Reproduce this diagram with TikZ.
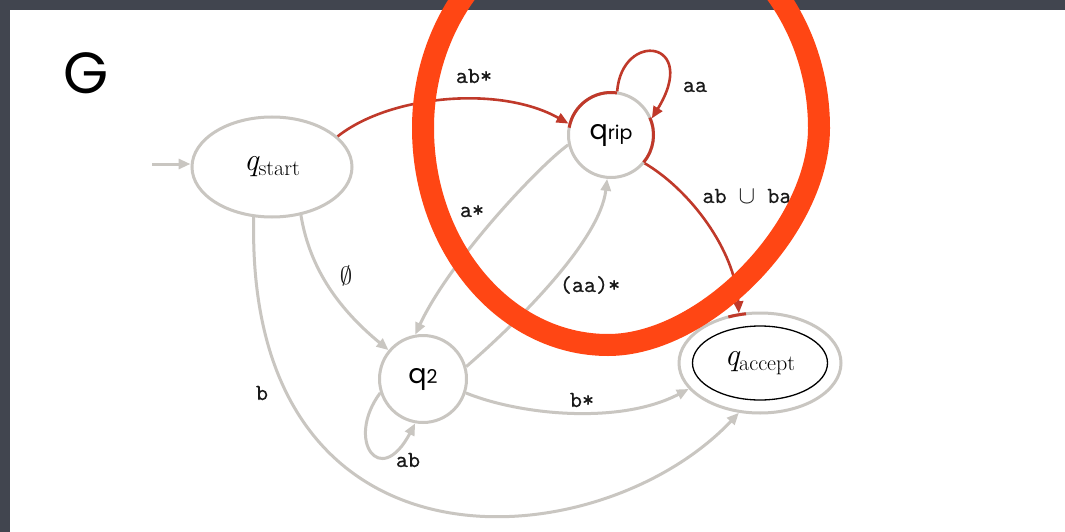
\documentclass[tikz,border=0pt]{standalone}
\usepackage{fontspec}
\newfontfamily\geo{Poppins}
\newfontfamily\labfont{lmmono10-regular.otf}[FakeBold=0.5]
\usetikzlibrary{arrows.meta,shapes.geometric}
\definecolor{slate}{HTML}{41454F}
\definecolor{edgegrey}{HTML}{C9C6C1}
\definecolor{edgered}{HTML}{C0392A}
\definecolor{marker}{HTML}{FF4614}
% state name: italic q with an upright, lowered subscript
\newcommand{\qsub}[1]{{\fontsize{32}{34}\selectfont\itshape q}{\fontsize{22}{24}\selectfont\raisebox{-5pt}{#1}}}
% state name in the geometric sans face
\newcommand{\qgeo}[1]{{\geo\fontsize{27}{30}\selectfont q\fontsize{19}{22}\selectfont #1}}

\begin{document}
\begin{tikzpicture}[x=1pt,y=-1pt,
  every node/.style={inner sep=0pt, outer sep=0pt},
  state/.style={draw=edgegrey, line width=3pt, fill=white, outer sep=1.5pt},
  gedge/.style={draw=edgegrey, line width=3pt, -{Triangle[length=12pt,width=10pt]}},
  redge/.style={draw=edgered, line width=2.6pt, -{Triangle[length=12pt,width=10pt]}},
  redarc/.style={draw=edgered, line width=3pt},
  lab/.style={font=\fontsize{23}{26}\selectfont\labfont, text=black!90, anchor=base}
]
\useasboundingbox (0,0) rectangle (1065,532);
\clip (0,0) rectangle (1065,532);

% slide frame
\fill[slate] (0,0) rectangle (1065,532);
\fill[white] (10,10) rectangle (1065,532);

% title
\node[font=\geo\fontsize{58}{60}\selectfont] (title) at (86,73.5) {G};

% states
\node[state, ellipse, minimum width=160pt, minimum height=100pt] (qstart) at (272,167) {\qsub{start}};
\node[state, circle, minimum size=85pt] (qrip) at (611,135) {\qgeo{rip}};
\node[state, circle, minimum size=87pt] (qtwo) at (423,379) {\qgeo{2}};
\node[state, ellipse, minimum width=162pt, minimum height=100pt] (qaccept) at (760,363) {};
\node[draw=black, line width=1.3pt, ellipse, minimum width=135pt, minimum height=74pt] (qacceptin) at (760,363) {\qsub{accept}};

% highlighted parts of state borders
\draw[redarc] ([shift={(82:42.5pt)}]qrip.center) arc[start angle=82, end angle=170, radius=42.5pt];
\draw[redarc] ([shift={(-40:42.5pt)}]qrip.center) arc[start angle=-40, end angle=24, radius=42.5pt];
\draw[redarc] ([shift={(100:81pt and 50pt)}]qaccept.center) arc[start angle=100, end angle=113, x radius=81pt, y radius=50pt];

% start arrow
\coordinate (init) at (152,164);
\draw[gedge] (init) -- (init -| qstart.west);

% transitions
\draw[redge] (qstart.25) .. controls (390,95) and (500,85) .. (qrip.165);
\draw[redge] (qrip.82) .. controls (622,30) and (700,40) .. (qrip.22);
\draw[redge] (qrip.-40) .. controls (690,190) and (735,250) .. (qaccept.113);
\draw[gedge] (qrip.193) .. controls (540,165) and (450,260) .. (qtwo.100);
\draw[gedge] (qtwo.16) .. controls (520,320) and (600,240) .. (qrip.265);
\draw[gedge] (qstart.-59) .. controls (310,270) and (340,310) .. (qtwo.140);
\draw[gedge] (qtwo.198) .. controls (345,440) and (380,490) .. (qtwo.260);
\draw[gedge] (qtwo.-18) .. controls (520,415) and (620,425) .. (qaccept.200);
\draw[gedge] (qstart.250) .. controls (245,590) and (600,560) .. (qaccept.247);

% transition labels
\node[lab] (lab1) at (474,83) {ab*};
\node[lab] (lab2) at (695,92) {aa};
\node[lab] (lab3) at (747,203) {ab $\cup$ ba};
\node[lab] (lab4) at (472,217) {a*};
\node[lab] (lab5) at (590,292) {(aa)*};
\node[lab, anchor=center] (lab6) at (346,276) {$\emptyset$};
\node[lab] (lab7) at (262,400) {b};
\node[lab] (lab8) at (582,407) {b*};
\node[lab] (lab9) at (408,467) {ab};

% hand-drawn highlight ring, a little flatter at the lower right
\draw[marker, line width=22pt, line join=round]
  (423,128) .. controls (423,248) and (506,345) .. (608,345)
            .. controls (705,345) and (819,228) .. (819,128)
            .. controls (819,8) and (730,-89) .. (621,-89)
            .. controls (512,-89) and (423,8) .. cycle;
\end{tikzpicture}
\end{document}
